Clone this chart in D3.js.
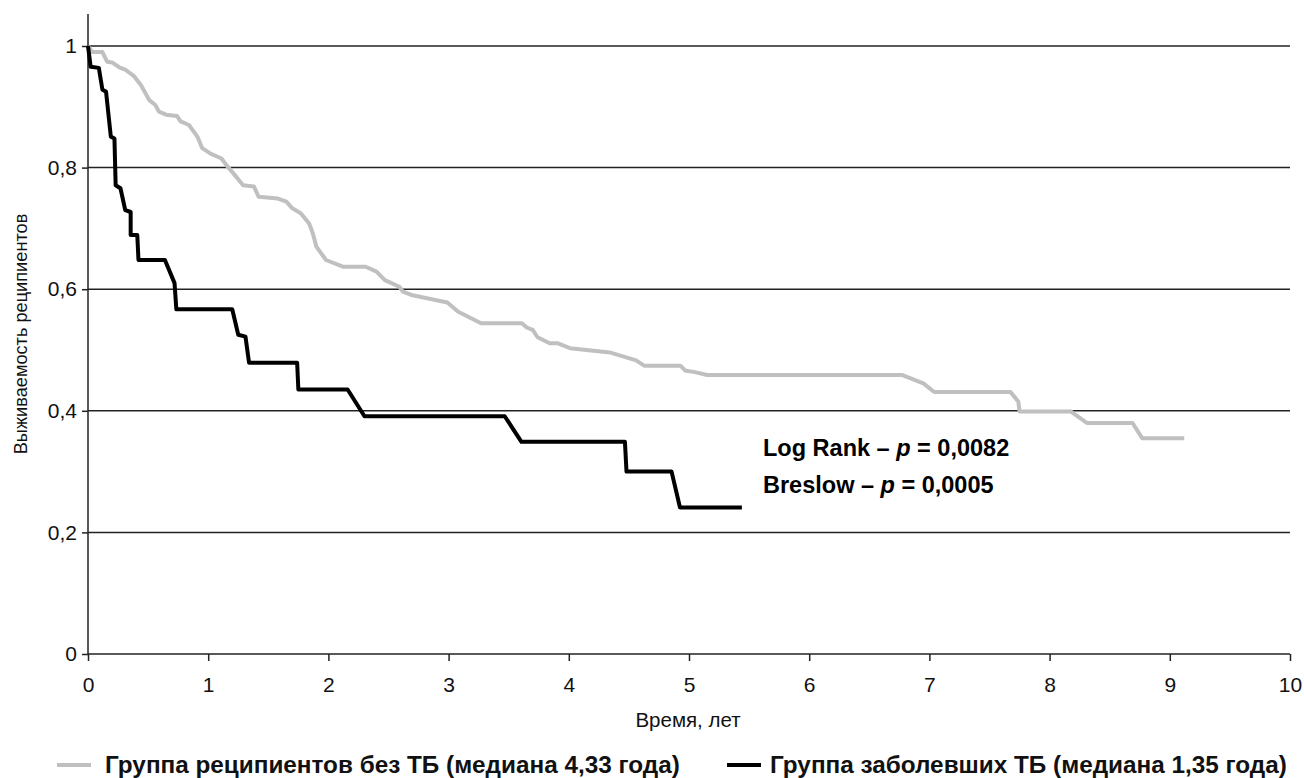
<!DOCTYPE html>
<html><head><meta charset="utf-8">
<script src="https://cdn.jsdelivr.net/npm/d3@7"></script>
<style>
html,body{margin:0;padding:0;background:#fff;}
svg{display:block;font-family:"Liberation Sans",Arial,sans-serif;}
</style></head>
<body>
<svg id="chart" width="1304" height="778"></svg>
<script>
// Survival curve points [time (years), survival]
const groupNoTB = [[0,1],[0.036,0.99],[0.12,0.99],[0.16,0.974],[0.2,0.973],[0.26,0.965],[0.31,0.961],[0.38,0.951],[0.44,0.936],[0.51,0.911],[0.56,0.903],[0.59,0.892],[0.65,0.887],[0.74,0.885],[0.77,0.876],[0.84,0.870],[0.91,0.851],[0.95,0.832],[1.02,0.823],[1.11,0.815],[1.16,0.802],[1.22,0.788],[1.27,0.776],[1.29,0.771],[1.38,0.769],[1.42,0.752],[1.58,0.749],[1.65,0.744],[1.70,0.733],[1.77,0.725],[1.84,0.708],[1.87,0.692],[1.90,0.670],[1.98,0.648],[2.12,0.637],[2.31,0.637],[2.40,0.629],[2.47,0.615],[2.59,0.604],[2.62,0.596],[2.70,0.590],[2.99,0.578],[3.08,0.563],[3.27,0.544],[3.61,0.544],[3.65,0.537],[3.70,0.533],[3.74,0.521],[3.84,0.511],[3.91,0.511],[4.01,0.503],[4.34,0.496],[4.56,0.483],[4.63,0.474],[4.93,0.474],[4.97,0.466],[5.04,0.464],[5.15,0.459],[6.77,0.459],[6.95,0.445],[7.04,0.431],[7.675,0.431],[7.74,0.415],[7.75,0.399],[8.175,0.399],[8.31,0.380],[8.69,0.380],[8.77,0.355],[9.12,0.355]];
const groupTB = [[0,1],[0.022,0.966],[0.09,0.964],[0.12,0.928],[0.15,0.925],[0.19,0.851],[0.22,0.848],[0.23,0.771],[0.27,0.766],[0.31,0.730],[0.355,0.727],[0.355,0.689],[0.41,0.689],[0.42,0.648],[0.64,0.648],[0.72,0.610],[0.735,0.567],[1.2,0.567],[1.25,0.525],[1.31,0.522],[1.34,0.479],[1.74,0.479],[1.75,0.435],[2.16,0.435],[2.3,0.391],[3.467,0.391],[3.606,0.349],[4.467,0.349],[4.48,0.300],[4.855,0.300],[4.925,0.241],[5.44,0.241]];
const xTicks = [0,1,2,3,4,5,6,7,8,9,10];
const yTicks = [0,0.2,0.4,0.6,0.8,1];
const yTickLabels = ["0","0,2","0,4","0,6","0,8","1"];
const legendLabels = ["Группа реципиентов без ТБ (медиана 4,33 года)","Группа заболевших ТБ (медиана 1,35 года)"];
const statLines = [["Log Rank – ","p"," = 0,0082"],["Breslow – ","p"," = 0,0005"]];
const xTitle = "Время, лет";
const yTitle = "Выживаемость реципиентов";

const svg = d3.select("#chart");
const x = d3.scaleLinear().domain([0,10]).range([88,1290]);
const y = d3.scaleLinear().domain([0,1]).range([654,46]);
const FONT = "Liberation Sans, Arial, sans-serif";

// gridlines
svg.append("g").selectAll("line").data(yTicks.filter(d=>d>0)).join("line")
  .attr("x1",x(0)).attr("x2",x(10)).attr("y1",d=>y(d)).attr("y2",d=>y(d))
  .attr("stroke","#222").attr("stroke-width",1.5);

// x axis
const xAxis = svg.append("g").attr("transform",`translate(0,${y(0)})`)
  .call(d3.axisBottom(x).tickValues(xTicks).tickSize(7).tickPadding(16).tickFormat(d3.format("d")));
xAxis.select(".domain").attr("stroke","#222").attr("stroke-width",1.5).attr("d",`M${x(0)},0H${x(10)}`);
xAxis.selectAll(".tick line").attr("stroke","#222").attr("stroke-width",1.5);
xAxis.selectAll("text").attr("font-size",21).attr("fill","#111").attr("font-family",FONT);

// y axis
const yAxis = svg.append("g").attr("transform",`translate(${x(0)},0)`)
  .call(d3.axisLeft(y).tickValues(yTicks).tickSize(6).tickPadding(5).tickFormat((d,i)=>yTickLabels[i]));
yAxis.select(".domain").attr("stroke","#222").attr("stroke-width",1.5).attr("d",`M0,${y(0)}V14`);
yAxis.selectAll(".tick line").attr("stroke","#222").attr("stroke-width",1.5);
yAxis.selectAll("text").attr("font-size",21).attr("fill","#111").attr("font-family",FONT);

// curves
const line = d3.line().x(d=>x(d[0])).y(d=>y(d[1]));
svg.append("path").datum(groupNoTB).attr("d",line).attr("fill","none")
  .attr("stroke","#c0c0c0").attr("stroke-width",4).attr("stroke-linejoin","round");
svg.append("path").datum(groupTB).attr("d",line).attr("fill","none")
  .attr("stroke","#000").attr("stroke-width",4).attr("stroke-linejoin","round");

// stats annotation
statLines.forEach((s,i)=>{
  const t = svg.append("text").attr("x",763).attr("y",456+i*37)
    .attr("font-size",23.5).attr("font-weight","bold").attr("fill","#000");
  t.append("tspan").text(s[0]);
  t.append("tspan").attr("font-style","italic").text(s[1]);
  t.append("tspan").text(s[2]);
});

// axis titles
svg.append("text").attr("x",688).attr("y",727).attr("text-anchor","middle")
  .attr("font-size",20.5).attr("fill","#111").text(xTitle);
svg.append("text").attr("transform",`translate(27,334) rotate(-90)`).attr("text-anchor","middle")
  .attr("font-size",18.2).attr("fill","#111").text(yTitle);

// legend
const legendItems = [{x:57,tx:105,color:"#c0c0c0",label:legendLabels[0]},{x:727,tx:770,color:"#000",label:legendLabels[1]}];
legendItems.forEach(it=>{
  svg.append("line").attr("x1",it.x).attr("x2",it.x+34).attr("y1",765).attr("y2",765)
    .attr("stroke",it.color).attr("stroke-width",4);
  svg.append("text").attr("x",it.tx).attr("y",773).attr("font-size",24.3)
    .attr("font-weight","bold").attr("fill","#111").text(it.label);
});
</script>
</body></html>
